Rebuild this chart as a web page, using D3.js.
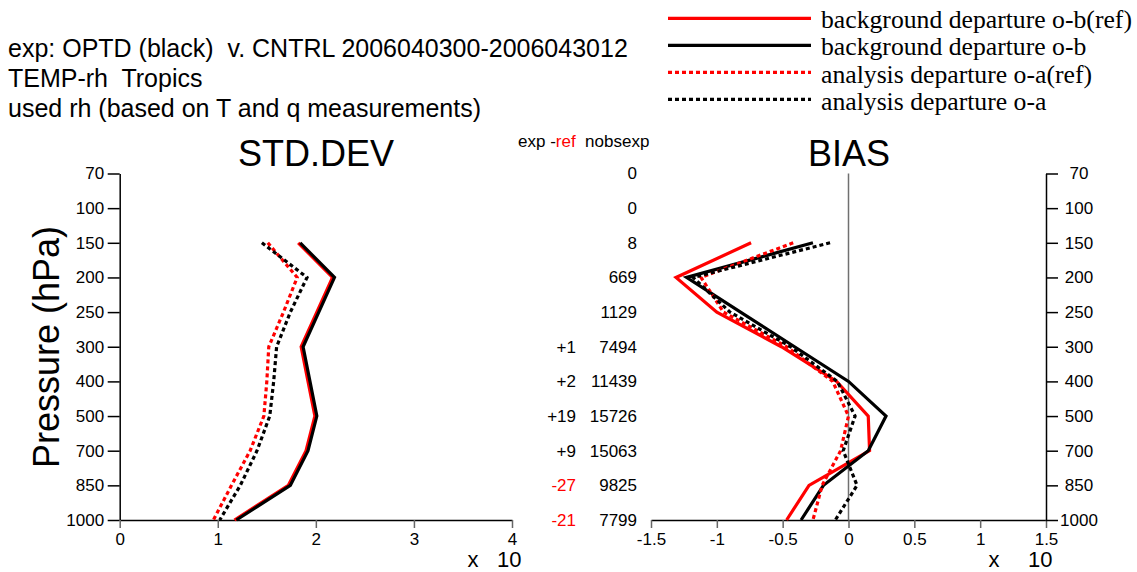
<!DOCTYPE html>
<html>
<head>
<meta charset="utf-8">
<script src="https://cdn.jsdelivr.net/npm/d3@7"></script>
<style>
  body { margin: 0; background: #fff; }
  svg text { font-family: "Liberation Sans", Arial, sans-serif; white-space: pre; }
  .legend text { font-family: "Liberation Serif", "Times New Roman", serif; }
</style>
</head>
<body>
<div id="container"></div>
<script>
// pressure levels (hPa), plotted evenly spaced
const levels = ['70', '100', '150', '200', '250', '300', '400', '500', '700', '850', '1000']
// levels that have data
const obsLevels = ['150', '200', '250', '300', '400', '500', '700', '850', '1000']

// STD.DEV (x 10)
const stdObRef = [1.82, 2.17, 2.01, 1.85, 1.92, 1.99, 1.90, 1.72, 1.17]
const stdOb = [1.84, 2.19, 2.03, 1.87, 1.94, 2.01, 1.92, 1.74, 1.19]
const stdOaRef = [1.51, 1.81, 1.67, 1.52, 1.50, 1.47, 1.33, 1.14, 0.955]
const stdOa = [1.45, 1.91, 1.74, 1.60, 1.57, 1.53, 1.40, 1.23, 1.02]

// BIAS (x 10)
const biasObRef = [-0.74, -1.31, -1.00, -0.51, -0.09, 0.15, 0.16, -0.30, -0.47]
const biasOb = [-0.27, -1.23, -0.82, -0.41, 0.0, 0.285, 0.15, -0.19, -0.36]
const biasOaRef = [-0.42, -1.12, -0.95, -0.47, -0.12, 0.0, -0.06, -0.20, -0.27]
const biasOa = [-0.14, -1.18, -0.90, -0.44, -0.085, 0.05, -0.04, 0.065, -0.10]

// obs counts column
const expMinusRef = ['', '', '', '', '', '+1', '+2', '+19', '+9', '-27', '-21']
const nobsexp = [0, 0, 8, 669, 1129, 7494, 11439, 15726, 15063, 9825, 7799]

const stdTicks = [0, 1, 2, 3, 4]
const biasTicks = [-1.5, -1, -0.5, 0, 0.5, 1, 1.5]

const headerLines = [
    'exp: OPTD (black)  v. CNTRL 2006040300-2006043012',
    'TEMP-rh  Tropics',
    'used rh (based on T and q measurements)'
]
const legendLabels = [
    'background departure o-b(ref)',
    'background departure o-b',
    'analysis departure o-a(ref)',
    'analysis departure o-a'
]

const styles = [
    { color: '#ff0000', dash: null },
    { color: '#000000', dash: null },
    { color: '#ff0000', dash: '4,3' },
    { color: '#000000', dash: '4,3' }
]

const width = 1137
const height = 572
const svg = d3.select('#container').append('svg')
    .attr('width', width).attr('height', height)
    .style('background', '#fff')

const y = d3.scalePoint().domain(levels).range([173.5, 520])
const xStd = d3.scaleLinear().domain([0, 4]).range([119.7, 512])
const xBias = d3.scaleLinear().domain([-1.5, 1.5]).range([651, 1046])

// header text
svg.append('g').selectAll('text').data(headerLines).enter().append('text')
    .attr('x', 8)
    .attr('y', (d, i) => 57 + i * 30)
    .attr('font-size', 25)
    .text(d => d)

// legend
const legend = svg.append('g').attr('class', 'legend')
legendLabels.forEach((lab, i) => {
    legend.append('line')
        .attr('x1', 668).attr('x2', 811)
        .attr('y1', 18.3 + i * 27).attr('y2', 18.3 + i * 27)
        .attr('stroke', styles[i].color)
        .attr('stroke-width', 3.2)
        .attr('stroke-dasharray', styles[i].dash)
    legend.append('text')
        .attr('x', 821)
        .attr('y', 27.5 + i * 27.5)
        .attr('font-size', 25.7)
        .text(lab)
})

// titles
svg.append('text').attr('x', 316).attr('y', 166).attr('text-anchor', 'middle')
    .attr('font-size', 36).text('STD.DEV')
svg.append('text').attr('x', 849).attr('y', 166).attr('text-anchor', 'middle')
    .attr('font-size', 36).text('BIAS')

svg.append('text')
    .attr('transform', 'translate(59, 347) rotate(-90)')
    .attr('text-anchor', 'middle')
    .attr('font-size', 36)
    .text('Pressure (hPa)')

// axes
const styleAxis = (g, tickColor) => {
    g.select('.domain').attr('stroke', '#000').attr('stroke-width', 1.5)
    g.selectAll('.tick line').attr('stroke', tickColor).attr('stroke-width', 1.5)
    g.selectAll('.tick text').attr('font-size', 17).attr('fill', '#000')
        .style('font-family', '"Liberation Sans", Arial, sans-serif')
}

svg.append('g')
    .attr('transform', `translate(${xStd(0)}, 0)`)
    .call(d3.axisLeft(y).tickSize(12).tickSizeOuter(0).tickPadding(3.5))
    .call(g => styleAxis(g, '#000'))

svg.append('g')
    .attr('transform', `translate(0, ${y('1000')})`)
    .call(d3.axisBottom(xStd).tickValues(stdTicks).tickSize(8).tickSizeOuter(0).tickPadding(5)
        .tickFormat(d => String(d)))
    .call(g => styleAxis(g, '#666'))

svg.append('g')
    .attr('transform', `translate(0, ${y('1000')})`)
    .call(d3.axisBottom(xBias).tickValues(biasTicks).tickSize(8).tickSizeOuter(0).tickPadding(5)
        .tickFormat(d => String(d)))
    .call(g => styleAxis(g, '#666'))

svg.append('g')
    .attr('transform', `translate(${xBias(1.5)}, 0)`)
    .call(d3.axisRight(y).tickSize(12).tickSizeOuter(0))
    .call(g => styleAxis(g, '#000'))
    .call(g => g.selectAll('.tick text').attr('text-anchor', 'middle').attr('x', 33))

// zero line of bias panel
svg.append('line')
    .attr('x1', xBias(0)).attr('x2', xBias(0))
    .attr('y1', y('70')).attr('y2', y('1000'))
    .attr('stroke', '#707070').attr('stroke-width', 1.5)

// x 10 scale notes
const scaleNote = (xx, x10) => {
    svg.append('text').attr('x', xx).attr('y', 567).attr('text-anchor', 'middle')
        .attr('font-size', 22).text('x')
    svg.append('text').attr('x', x10).attr('y', 567)
        .attr('font-size', 22).text('10')
}
scaleNote(473, 497)
scaleNote(994, 1028)

// profiles
const drawProfiles = (x, seriesList) => {
    const line = d3.line()
        .x(d => x(d.v))
        .y(d => y(d.p))
    seriesList.forEach((vals, i) => {
        const pts = obsLevels.map((p, j) => ({ p: p, v: vals[j] }))
        svg.append('path')
            .datum(pts)
            .attr('d', line)
            .attr('fill', 'none')
            .attr('stroke', styles[i].color)
            .attr('stroke-width', 3.2)
            .attr('stroke-dasharray', styles[i].dash)
            .attr('stroke-linejoin', 'miter')
    })
}
drawProfiles(xStd, [stdObRef, stdOb, stdOaRef, stdOa])
drawProfiles(xBias, [biasObRef, biasOb, biasOaRef, biasOa])

// counts column
const head = svg.append('text').attr('x', 518).attr('y', 147).attr('font-size', 17)
head.append('tspan').text('exp -')
head.append('tspan').attr('fill', '#ff0000').text('ref')
head.append('tspan').text('  nobsexp')

svg.append('g').selectAll('text').data(levels).enter().append('text')
    .attr('x', 576)
    .attr('y', d => y(d))
    .attr('dy', '0.35em')
    .attr('text-anchor', 'end')
    .attr('font-size', 17)
    .attr('fill', (d, i) => expMinusRef[i].startsWith('-') ? '#ff0000' : '#000')
    .text((d, i) => expMinusRef[i])

svg.append('g').selectAll('text').data(levels).enter().append('text')
    .attr('x', 637)
    .attr('y', d => y(d))
    .attr('dy', '0.35em')
    .attr('text-anchor', 'end')
    .attr('font-size', 17)
    .text((d, i) => nobsexp[i])
</script>
</body>
</html>
